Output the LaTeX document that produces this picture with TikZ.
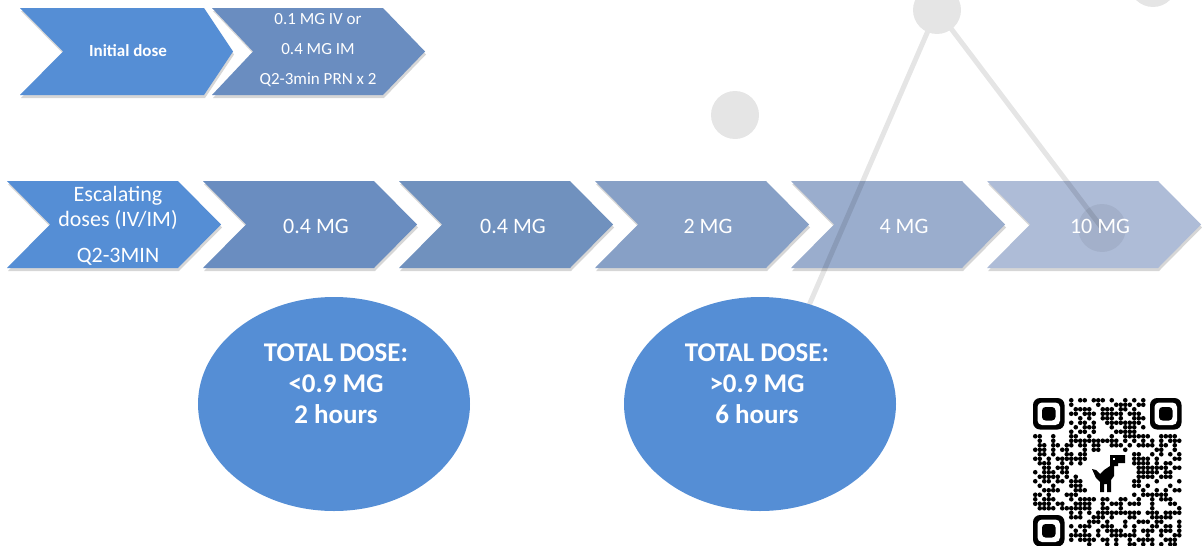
\documentclass[tikz,border=0pt]{standalone}
\usepackage{fontspec}
\setmainfont{Carlito}
\usetikzlibrary{shapes.geometric}
\definecolor{cblue}{HTML}{558ED5}
\definecolor{cA}{HTML}{6A8DC0}
\definecolor{cB}{HTML}{7091BE}
\definecolor{cC}{HTML}{87A0C6}
\definecolor{cD}{HTML}{9AADCD}
\definecolor{cE}{HTML}{AEBCD7}
% #1 left, #2 top, #3 width, #4 height, #5 notch depth, #6 tip depth, #7 colour
\newcommand{\chevshape}[7]{%
  \fill[black,opacity=0.16] (#1+1,#2+3) -- ++(#3-#6,0) -- ++(#6,#4/2) -- ++(-#6,#4/2) -- ++(-#3+#6,0) -- ++(#5,-#4/2) -- cycle;
  \fill[#7] (#1,#2) -- ++(#3-#6,0) -- ++(#6,#4/2) -- ++(-#6,#4/2) -- ++(-#3+#6,0) -- ++(#5,-#4/2) -- cycle;}
\newcommand{\finderpat}[2]{%
  \fill[black,rounded corners=7] (#1,#2) rectangle ++(31.5,31.5);
  \fill[white,rounded corners=4.5] (#1+4.5,#2+4.5) rectangle ++(22.5,22.5);
  \fill[black,rounded corners=3.5] (#1+9,#2+9) rectangle ++(13.5,13.5);}
\tikzset{
  chevtxt/.style={text=white, align=center, font=\fontsize{22}{25}\selectfont},
  toptxt/.style={text=white, align=center, font=\fontsize{17}{30}\selectfont},
  ovaltxt/.style={text=white, align=center, font=\bfseries\fontsize{27}{31}\selectfont},
  oval/.style={ellipse, fill=cblue, minimum width=272, minimum height=214},
}
\begin{document}
\begin{tikzpicture}[x=1pt,y=-1pt, every node/.style={inner sep=0pt, outer sep=0pt}]
\useasboundingbox (0,0) rectangle (1202,546);
\fill[white] (0,0) rectangle (1202,546);

% row 1
\chevshape{20}{8}{213}{87}{43}{29}{cblue}
\chevshape{212}{8}{213}{87}{41}{42}{cA}
% row 2
\chevshape{7}{181}{214}{87}{43}{43}{cblue}
\chevshape{203}{181}{214}{87}{43}{43}{cA}
\chevshape{399}{181}{214}{87}{43}{43}{cB}
\chevshape{595}{181}{214}{87}{43}{43}{cC}
\chevshape{791}{181}{214}{87}{43}{43}{cD}
\chevshape{987}{181}{214}{87}{43}{43}{cE}

% background decoration
\begin{scope}[transparency group, opacity=0.1]
  \draw[black, line width=5] (937,10) -- (797,333);
  \draw[black, line width=5] (937,10) -- (1102,228);
  \fill[black] (937,10) circle (24);
  \fill[black] (735,115) circle (24);
  \fill[black] (1153,-17) circle (24);
\end{scope}
\fill[black, opacity=0.06] (1102,228) circle (24);

% texts of chevrons
\node[toptxt, font=\bfseries\fontsize{17}{20}\selectfont] (init) at (128,51) {Initial dose};
\node[toptxt] (first) at (318,50) {0.1 MG IV or\\0.4 MG IM\\Q2-3min PRN x 2};
\node[chevtxt] (esc) at (118,226) {Escalating\\doses (IV/IM)\\[11pt]Q2-3MIN};
\node[chevtxt] (d1) at (316,226) {0.4 MG};
\node[chevtxt] (d2) at (513,226) {0.4 MG};
\node[chevtxt] (d3) at (708,226) {2 MG};
\node[chevtxt] (d4) at (904,226) {4 MG};
\node[chevtxt] (d5) at (1100,226) {10 MG};

% ovals
\node[oval] (o1) at (334,404) {};
\node[oval] (o2) at (760,404) {};
\node[ovaltxt] (t1) at (336,384) {TOTAL DOSE:\\<0.9 MG\\2 hours};
\node[ovaltxt] (t2) at (757,384) {TOTAL DOSE:\\>0.9 MG\\6 hours};

% QR code
\pgfmathsetseed{4242}
\foreach \i in {0,...,32}{
  \foreach \j in {0,...,32}{
    \pgfmathtruncatemacro{\sk}{((\i<8)&&(\j<8)) || ((\i>24)&&(\j<8)) || ((\i<8)&&(\j>24)) || ((\i>11)&&(\i<22)&&(\j>11)&&(\j<22))}
    \pgfmathrandominteger{\r}{0}{99}
    \ifnum\sk=0 \ifnum\r<55
      \fill[black] ({1033+4.5*\i+2.25},{398+4.5*\j+2.25}) circle (2.3);
    \fi\fi
  }
}
\finderpat{1033}{398}
\finderpat{1150}{398}
\finderpat{1033}{515}
% dino
\fill[black] (1110,455) -- (1125,455) -- (1125,463) -- (1118,463) -- (1118,466) -- (1114,466)
  -- (1114,476) -- (1111,480) -- (1111,492) -- (1107,492) -- (1107,484) -- (1104,484)
  -- (1104,492) -- (1100,492) -- (1100,482) -- (1096,478) -- (1092,469) -- (1096,470)
  -- (1100,474) -- (1104,470) -- (1110,466) -- cycle;
\fill[white] (1113,458) rectangle ++(2,2);
\end{tikzpicture}
\end{document}
